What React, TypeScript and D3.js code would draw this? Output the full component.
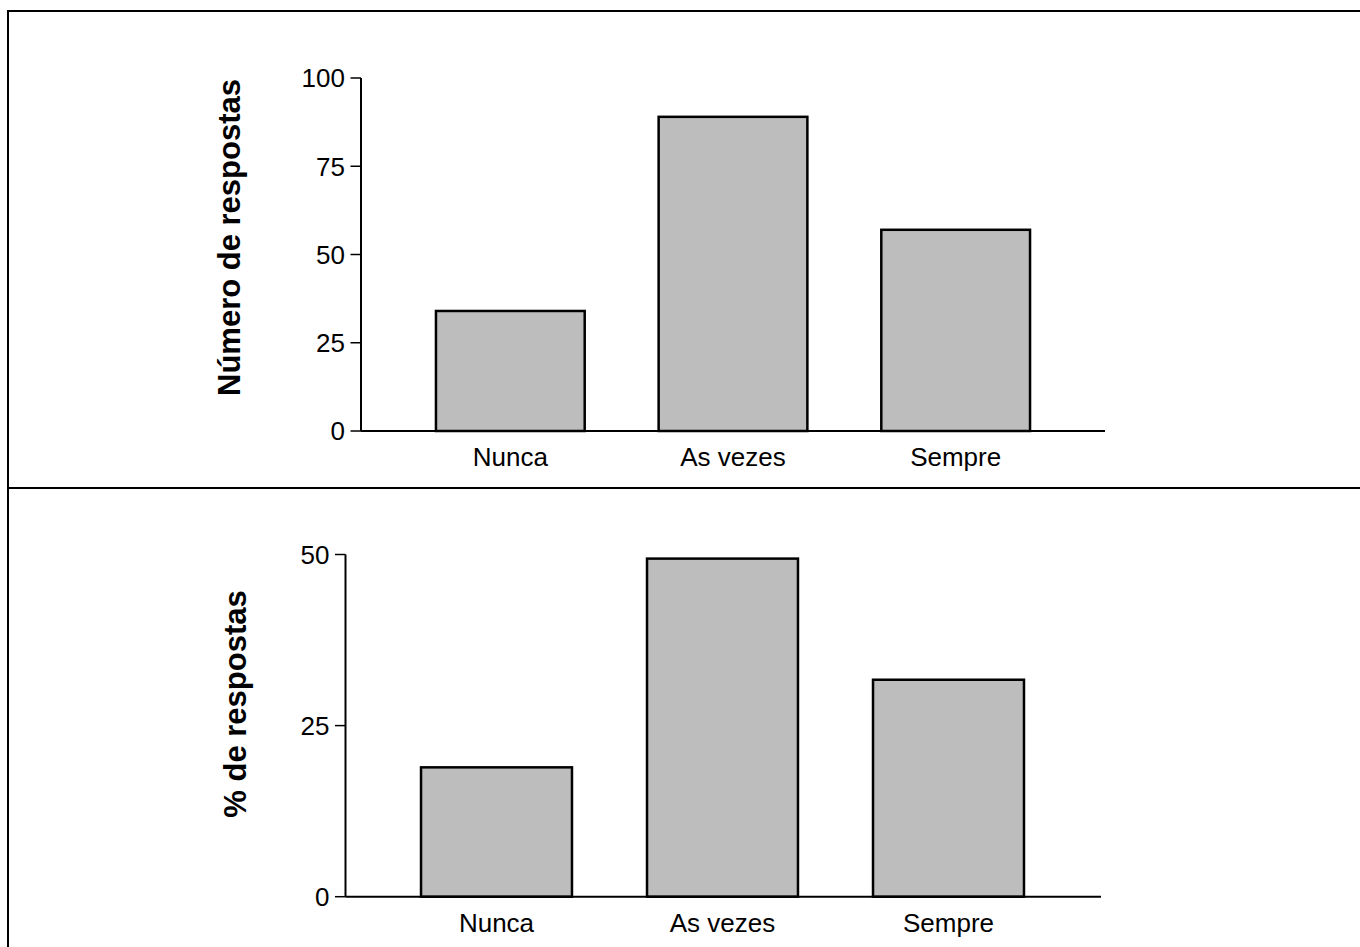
import React from "react";
import * as d3 from "d3";

const categories = ["Nunca", "As vezes", "Sempre"];
const countValues = [34, 89, 57];
const percentValues = [18.9, 49.4, 31.7];
const countTicks = [0, 25, 50, 75, 100];
const percentTicks = [0, 25, 50];

const FONT = "'Liberation Sans', Arial, Helvetica, sans-serif";

type PanelProps = {
  values: number[];
  ticks: number[];
  yMax: number;
  title: string;
  axisX: number;
  axisTop: number;
  axisBottom: number;
  axisRight: number;
  bandRange: [number, number];
  titleX: number;
  titleY: number;
};

function Panel(p: PanelProps) {
  const y = d3.scaleLinear().domain([0, p.yMax]).range([p.axisBottom, p.axisTop]);
  const x = d3
    .scaleBand<string>()
    .domain(categories)
    .range(p.bandRange)
    .paddingInner(0.332)
    .paddingOuter(0.166);
  return (
    <g>
      {categories.map((c, i) => (
        <rect
          key={c}
          x={x(c)}
          y={y(p.values[i])}
          width={x.bandwidth()}
          height={y(0) - y(p.values[i])}
          fill="#bdbdbd"
          stroke="#000"
          strokeWidth={2.5}
        />
      ))}
      <line x1={p.axisX} x2={p.axisX} y1={y(p.yMax)} y2={y(0)} stroke="#000" strokeWidth={2} />
      <line x1={p.axisX} x2={p.axisRight} y1={y(0)} y2={y(0)} stroke="#000" strokeWidth={2} />
      {p.ticks.map((t) => (
        <g key={t}>
          <line x1={p.axisX - 10.5} x2={p.axisX} y1={y(t)} y2={y(t)} stroke="#000" strokeWidth={1.5} />
          <text
            x={p.axisX - 16}
            y={y(t)}
            dy="0.36em"
            textAnchor="end"
            fontFamily={FONT}
            fontSize={26}
            fill="#000"
          >
            {t}
          </text>
        </g>
      ))}
      {categories.map((c) => (
        <text
          key={c}
          x={(x(c) as number) + x.bandwidth() / 2}
          y={y(0) + 35}
          textAnchor="middle"
          fontFamily={FONT}
          fontSize={26}
          fill="#000"
        >
          {c}
        </text>
      ))}
      <text
        transform={`translate(${p.titleX},${p.titleY}) rotate(-90)`}
        textAnchor="middle"
        fontFamily={FONT}
        fontSize={31}
        fontWeight="bold"
        fill="#000"
      >
        {p.title}
      </text>
    </g>
  );
}

export default function App() {
  return (
    <svg
      width={1360}
      height={947}
      style={{ position: "absolute", left: 0, top: 0, display: "block", background: "#fff" }}
    >
      <rect x={0} y={0} width={1360} height={947} fill="#fff" />
      <rect x={8} y={11} width={1370} height={960} fill="none" stroke="#000" strokeWidth={2} />
      <line x1={8} x2={1370} y1={488} y2={488} stroke="#000" strokeWidth={2} />
      <Panel
        values={countValues}
        ticks={countTicks}
        yMax={100}
        title="Número de respostas"
        axisX={361}
        axisTop={78}
        axisBottom={431}
        axisRight={1105}
        bandRange={[399, 1067]}
        titleX={240}
        titleY={237.5}
      />
      <Panel
        values={percentValues}
        ticks={percentTicks}
        yMax={50}
        title="% de respostas"
        axisX={345.5}
        axisTop={554.5}
        axisBottom={896.7}
        axisRight={1101}
        bandRange={[383.5, 1061.5]}
        titleX={246}
        titleY={704}
      />
    </svg>
  );
}
